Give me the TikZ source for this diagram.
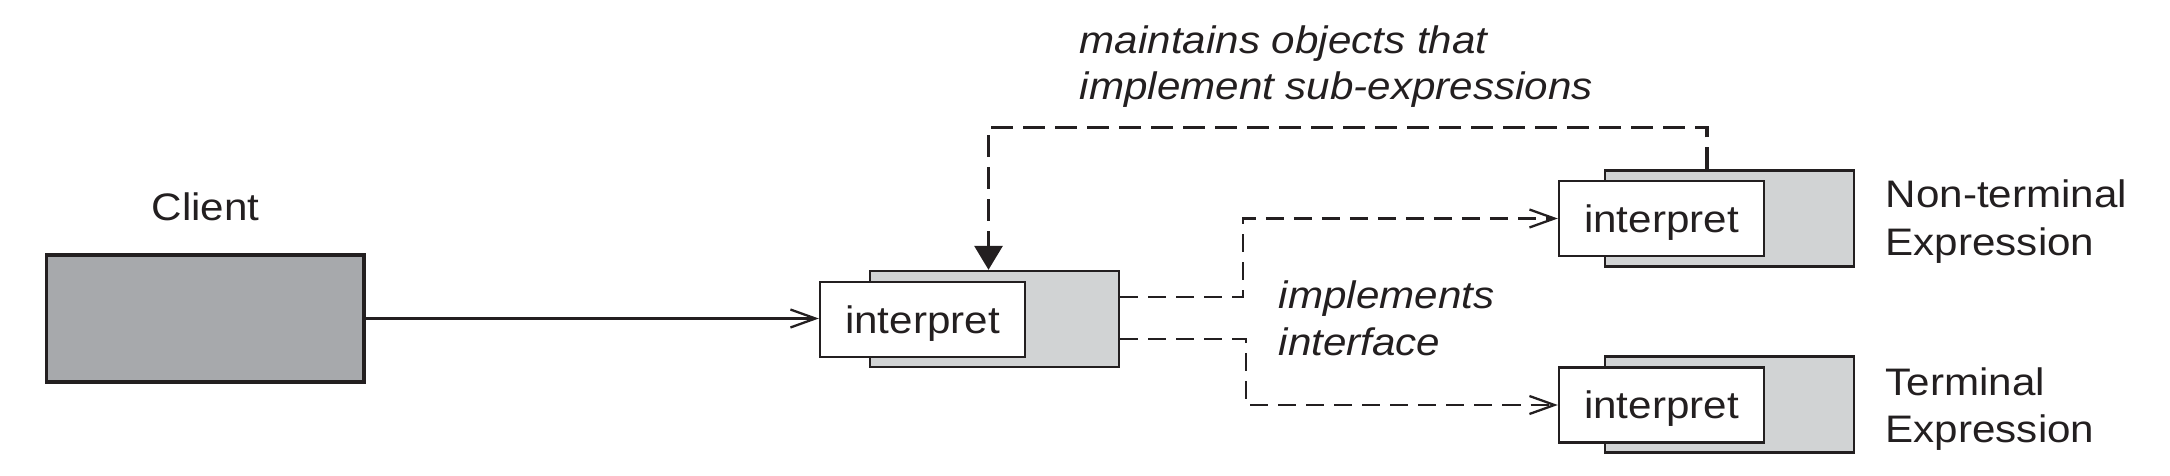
\documentclass[tikz,border=0pt]{standalone}
\usepackage{fontspec}
\setmainfont{Liberation Sans}[FakeStretch=1.1]
\usetikzlibrary{arrows.meta,calc}
\definecolor{ink}{HTML}{231F20}
\definecolor{clientgray}{HTML}{A7A9AC}
\definecolor{backgray}{HTML}{D1D3D4}
\begin{document}
\begin{tikzpicture}[x=0.01cm,y=-0.01cm,
  font=\fontsize{10.9}{13.4}\selectfont,
  clientbox/.style={draw=ink, line width=0.95pt, fill=clientgray, minimum width=3.17cm, minimum height=1.27cm, inner sep=0pt},
  backbox/.style={draw=ink, line width=0.65pt, fill=backgray, minimum width=2.49cm, minimum height=0.96cm, inner sep=0pt},
  frontbox/.style={draw=ink, line width=0.65pt, fill=white, minimum width=2.05cm, minimum height=0.75cm, inner sep=0pt, text=ink, text depth=0pt},
  lbl/.style={anchor=base west, inner sep=0pt, text=ink},
  note/.style={lbl, font=\fontsize{10.9}{13.4}\selectfont\itshape},
  call/.style={draw=ink, line width=0.65pt, -{Straight Barb[length=0.25cm,width=0.18cm]}},
  impl/.style={draw=ink, line width=0.65pt, dash pattern=on 0.18cm off 0.1cm, -{Straight Barb[length=0.25cm,width=0.18cm]}},
  hold/.style={draw=ink, line width=0.9pt, dash pattern=on 0.22cm off 0.1cm, -{Triangle[length=0.24cm,width=0.28cm]}}
]
\useasboundingbox (0,0) rectangle (2170,476);

% Client
\node[clientbox] (client) at (205.3,318.5) {};
\node[anchor=base, inner sep=0pt, text=ink] (clientlbl) at (205.5,220.7) {Client};

% central abstract expression
\node[backbox] (cback) at (994.5,319) {};
\node[frontbox] (cfront) at (922.5,319.5) {interpret};

% non-terminal expression
\node[backbox] (ntback) at (1729.5,218.5) {};
\node[frontbox] (ntfront) at (1661.5,218.5) {interpret};
\node[lbl] (ntl1) at (1885,208) {Non-terminal};
\node[lbl] (ntl2) at (1885,255) {Expression};

% terminal expression
\node[backbox] (tback) at (1729.5,404.5) {};
\node[frontbox] (tfront) at (1661.5,405) {interpret};
\node[lbl] (tl1) at (1885,395) {Terminal};
\node[lbl] (tl2) at (1885,442) {Expression};

% notes
\node[note] (m1) at (1079,53.3) {maintains objects that};
\node[note] (m2) at (1079,100) {implement sub-expressions};
\node[note] (i1) at (1278,308) {implements};
\node[note] (i2) at (1278,355) {interface};

% connectors
\draw[call] (client.east) -- (client.east -| cfront.west);
\draw[impl] ($(cback.east)+(0,-22)$) -- ++(123,0) |- (ntfront.west);
\draw[impl] ($(cback.east)+(0,20)$) -- ++(126,0) |- (tfront.west);
\draw[hold] ($(ntback.north)+(-22.5,0)$) -- ++(0,-42) -| ($(cback.north)+(-6,0)$);
\end{tikzpicture}
\end{document}
